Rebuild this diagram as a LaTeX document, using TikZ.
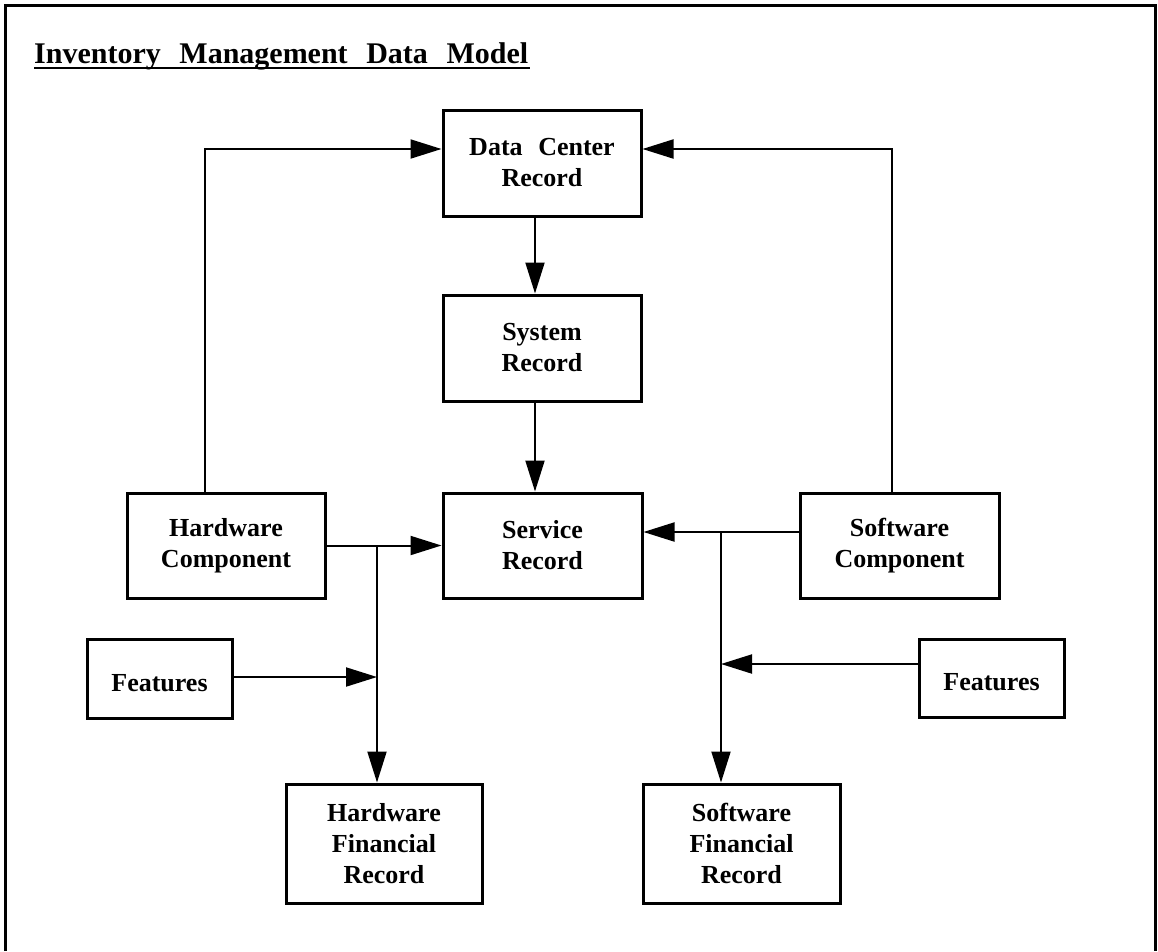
\documentclass[tikz,border=0pt]{standalone}
\usepackage{fontspec}
\setmainfont{Liberation Serif}
\usetikzlibrary{arrows.meta}
\tikzset{
  box/.style={draw, line width=3pt, rectangle, inner sep=0pt, align=center,
    font=\fontsize{26}{31}\selectfont\bfseries},
  arr/.style={line width=2pt, -{Triangle[length=31pt,width=19pt]}},
  conn/.style={line width=2pt},
}
\begin{document}
\begin{tikzpicture}[x=1pt,y=-1pt]
\useasboundingbox (0,0) rectangle (1158,951);
% frame
\draw[line width=3pt] (5,951) -- (5,5) -- (1155,5) -- (1155,951);
% title
\node[anchor=base west, inner sep=0pt, font=\fontsize{30}{36}\selectfont\bfseries] (title) at (34,63)
  {Inventory\hspace{0.62em}Management\hspace{0.62em}Data\hspace{0.62em}Model};
\draw[line width=2pt] (title.base west) ++(0,5) -- ++(496,0);
% boxes
\node[box, minimum width=198pt, minimum height=106pt] (dc) at (542,163) {Data\hspace{0.6em}Center\\Record};
\node[box, minimum width=198pt, minimum height=106pt] (sys) at (542,348) {System\\Record};
\node[box, minimum width=199pt, minimum height=105pt] (svc) at (542.5,545.5) {Service\\Record};
\node[box, minimum width=198pt, minimum height=105pt] (hw) at (226,545.5) {Hardware\\Component};
\node[box, minimum width=199pt, minimum height=105pt] (sw) at (899.5,545.5) {Software\\Component};
\node[box, minimum width=145pt, minimum height=79pt, text height=26pt] (hwf) at (159.5,678.5) {Features};
\node[box, minimum width=145pt, minimum height=78pt, text height=26pt] (swf) at (991.5,678) {Features};
\node[box, minimum width=196pt, minimum height=119pt] (hwfin) at (384,843.5) {Hardware\\Financial\\Record};
\node[box, minimum width=197pt, minimum height=119pt] (swfin) at (741.5,843.5) {Software\\Financial\\Record};
% helper coordinates
\coordinate (hwUp) at (205,149);
\coordinate (swUp) at (892,149);
\coordinate (midx) at (535,0);
\coordinate (hj) at (377,545.5);
\coordinate (sj) at (721,532);
\coordinate (sf) at (721,664);
% connectors
\draw[arr] (hw.north -| hwUp) -- (hwUp) -- (dc.west |- hwUp);
\draw[arr] (sw.north -| swUp) -- (swUp) -- (dc.east |- swUp);
\draw[arr] (dc.south -| midx) -- (sys.north -| midx);
\draw[arr] (sys.south -| midx) -- (svc.north -| midx);
\draw[arr] (hw.east) -- (svc.west);
\draw[arr] (hj) -- (hwfin.north -| hj);
\draw[arr] (hwf.east |- 0,677) -- (hj |- 0,677);
\draw[arr] (sw.west |- sj) -- (svc.east |- sj);
\draw[arr] (sj) -- (swfin.north -| sj);
\draw[arr] (swf.west |- sf) -- (sf);
\end{tikzpicture}
\end{document}
